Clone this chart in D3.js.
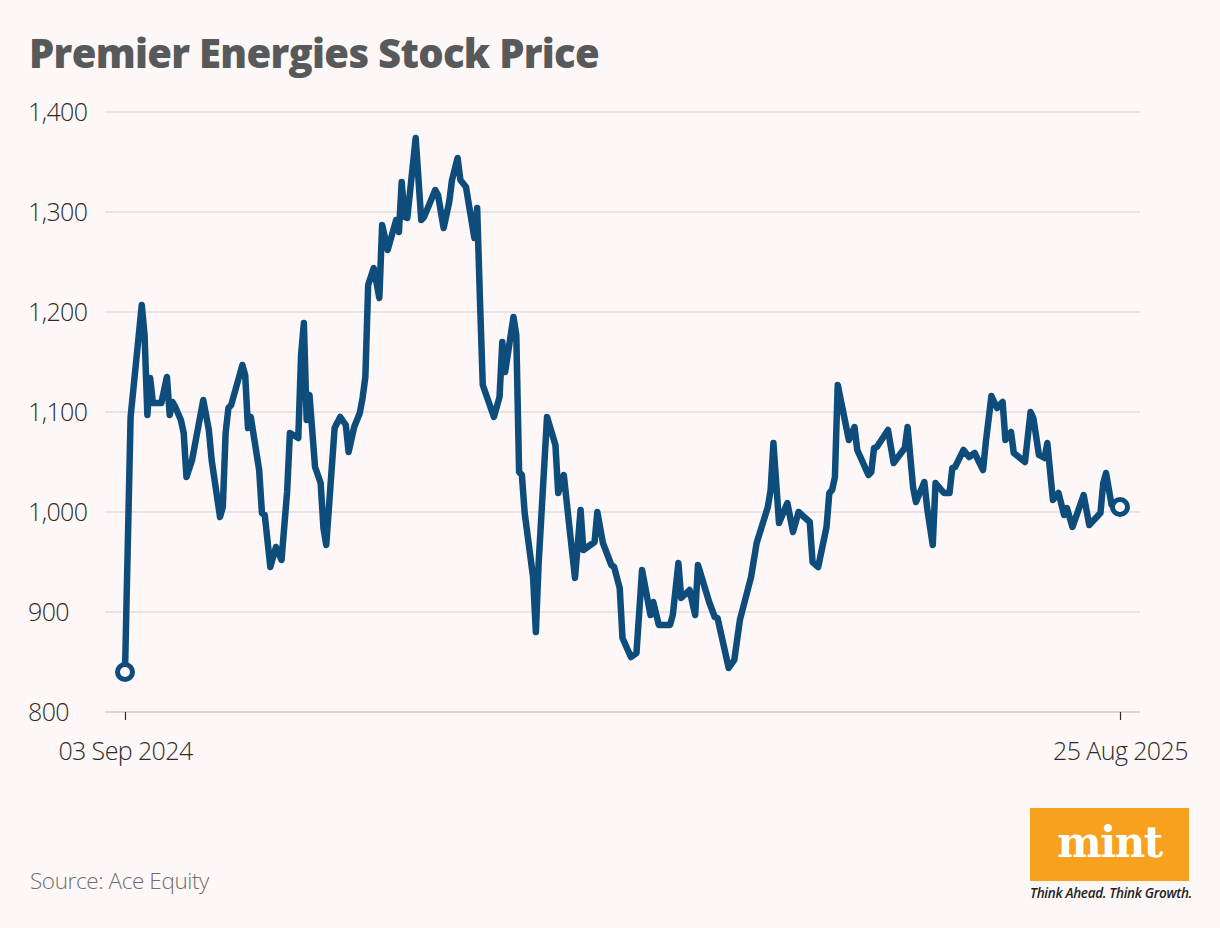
<!DOCTYPE html>
<html>
<head>
<meta charset="utf-8">
<script src="https://cdn.jsdelivr.net/npm/d3@7"></script>
<style>
  body { margin: 0; background: #fdf8f7; }
  svg { display: block; }
</style>
</head>
<body>
<div id="chart"></div>
<script>
// data
const dates = [
  "2024-09-03","2024-09-05","2024-09-09","2024-09-10","2024-09-11","2024-09-12","2024-09-13","2024-09-16",
  "2024-09-18","2024-09-19","2024-09-20","2024-09-21","2024-09-23","2024-09-24","2024-09-25","2024-09-27",
  "2024-09-29","2024-10-01","2024-10-03","2024-10-04","2024-10-07","2024-10-08","2024-10-09","2024-10-10",
  "2024-10-11","2024-10-15","2024-10-16","2024-10-17","2024-10-18","2024-10-21","2024-10-22","2024-10-23",
  "2024-10-25","2024-10-27","2024-10-29","2024-10-31","2024-11-01","2024-11-04","2024-11-05","2024-11-06",
  "2024-11-07","2024-11-08","2024-11-10","2024-11-12","2024-11-13","2024-11-14","2024-11-17","2024-11-19",
  "2024-11-21","2024-11-22","2024-11-24","2024-11-26","2024-11-27","2024-11-28","2024-11-29","2024-12-01",
  "2024-12-03","2024-12-04","2024-12-06","2024-12-09","2024-12-10","2024-12-11","2024-12-12","2024-12-13",
  "2024-12-16","2024-12-18","2024-12-19","2024-12-23","2024-12-24","2024-12-26","2024-12-28","2024-12-29",
  "2024-12-31","2025-01-01","2025-01-03","2025-01-06","2025-01-07","2025-01-08","2025-01-09","2025-01-13",
  "2025-01-15","2025-01-16","2025-01-17","2025-01-20","2025-01-21","2025-01-22","2025-01-23","2025-01-24",
  "2025-01-27","2025-01-28","2025-01-29","2025-02-01","2025-02-04","2025-02-05","2025-02-07","2025-02-09",
  "2025-02-11","2025-02-13","2025-02-14","2025-02-18","2025-02-19","2025-02-21","2025-02-24","2025-02-25",
  "2025-02-27","2025-02-28","2025-03-03","2025-03-05","2025-03-07","2025-03-10","2025-03-11","2025-03-13",
  "2025-03-17","2025-03-18","2025-03-20","2025-03-21","2025-03-24","2025-03-26","2025-03-27","2025-03-31",
  "2025-04-02","2025-04-03","2025-04-07","2025-04-09","2025-04-11","2025-04-15","2025-04-17","2025-04-21",
  "2025-04-22","2025-04-23","2025-04-25","2025-04-28","2025-04-30","2025-05-02","2025-05-06","2025-05-07",
  "2025-05-09","2025-05-12","2025-05-13","2025-05-14","2025-05-15","2025-05-16","2025-05-20","2025-05-22",
  "2025-05-23","2025-05-27","2025-05-28","2025-05-29","2025-05-30","2025-06-03","2025-06-05","2025-06-09",
  "2025-06-10","2025-06-12","2025-06-13","2025-06-16","2025-06-17","2025-06-19","2025-06-20","2025-06-23",
  "2025-06-25","2025-06-26","2025-06-27","2025-06-30","2025-07-02","2025-07-04","2025-07-07","2025-07-08",
  "2025-07-10","2025-07-12","2025-07-14","2025-07-15","2025-07-17","2025-07-18","2025-07-22","2025-07-24",
  "2025-07-25","2025-07-27","2025-07-29","2025-07-30","2025-08-01","2025-08-03","2025-08-05","2025-08-06",
  "2025-08-08","2025-08-12","2025-08-14","2025-08-18","2025-08-19","2025-08-20","2025-08-22","2025-08-25"
];
const prices = [
  840,1095,1207,1177,1097,1134,1109,1109,
  1135,1097,1110,1105,1092,1079,1035,1052,
  1082,1112,1082,1052,995,1005,1079,1104,
  1107,1147,1137,1084,1095,1042,999,997,
  945,965,952,1020,1079,1074,1157,1189,
  1092,1117,1045,1029,984,967,1084,1095,
  1087,1060,1085,1099,1114,1135,1227,1244,
  1214,1287,1262,1292,1280,1330,1295,1294,
  1374,1292,1295,1322,1317,1284,1310,1332,
  1354,1332,1325,1274,1304,1212,1127,1095,
  1115,1170,1140,1195,1177,1040,1037,999,
  935,880,949,1095,1067,1019,1037,985,
  934,1002,962,970,1000,969,947,945,
  924,874,855,859,942,897,910,887,
  887,897,949,914,922,897,947,910,
  895,894,844,852,892,935,969,1005,
  1022,1069,989,1009,980,1000,990,950,
  945,985,1019,1022,1035,1127,1072,1085,
  1062,1037,1040,1064,1065,1082,1049,1064,
  1085,1024,1010,1030,1004,967,1029,1019,
  1019,1044,1045,1062,1055,1059,1042,1070,
  1116,1104,1110,1072,1080,1059,1050,1100,
  1094,1057,1054,1069,1012,1019,997,1004,
  985,1017,987,999,1029,1039,1007,1005
];
const yTicks = [800, 900, 1000, 1100, 1200, 1300, 1400];
const xTickLabels = ["03 Sep 2024", "25 Aug 2025"];

const W = 1220, H = 928;
const margin = { left: 125, right: 100, top: 112, bottom: 216 };
const parse = d3.timeParse("%Y-%m-%d");
const data = dates.map((d, i) => ({ date: parse(d), value: prices[i] }));

const svg = d3.select("#chart").append("svg")
  .attr("width", W)
  .attr("height", H)
  .style("background", "#fdf8f7");

const x = d3.scaleTime()
  .domain(d3.extent(data, d => d.date))
  .range([margin.left, W - margin.right]);
const y = d3.scaleLinear()
  .domain([800, 1400])
  .range([H - margin.bottom, margin.top]);

// title
svg.append("text")
  .attr("x", 29)
  .attr("y", 68)
  .attr("font-family", "'Open Sans', sans-serif")
  .attr("font-weight", 800)
  .attr("font-size", 40)
  .attr("letter-spacing", -0.7)
  .attr("fill", "#58595b")
  .text("Premier Energies Stock Price");

// gridlines
svg.append("g")
  .selectAll("line")
  .data(yTicks)
  .join("line")
    .attr("x1", 105)
    .attr("x2", 1140)
    .attr("y1", d => y(d))
    .attr("y2", d => y(d))
    .attr("stroke", d => d === 800 ? "#cfcaca" : "#e2dddd")
    .attr("stroke-width", 1.5);

// y labels
svg.append("g")
  .selectAll("text")
  .data(yTicks)
  .join("text")
    .attr("x", 28)
    .attr("y", d => y(d) + 9)
    .attr("font-family", "'Open Sans', sans-serif")
    .attr("font-weight", 300)
    .attr("font-size", 25)
    .attr("letter-spacing", -0.6)
    .attr("fill", "#2b2b2b")
    .text(d => d3.format(",")(d));

// x axis ticks
const xAxis = svg.append("g")
  .attr("transform", `translate(0,${y(800)})`)
  .call(d3.axisBottom(x)
    .tickValues([data[0].date, data[data.length - 1].date])
    .tickSize(8)
    .tickFormat((d, i) => xTickLabels[i]));
xAxis.select(".domain").remove();
xAxis.selectAll("line").attr("stroke", "#2b2b2b").attr("stroke-width", 1.2);
xAxis.selectAll("text")
  .attr("y", 30)
  .attr("font-family", "'Open Sans', sans-serif")
  .attr("font-weight", 300)
  .attr("font-size", 25)
  .attr("letter-spacing", -0.6)
  .attr("fill", "#2b2b2b");

// price line
const line = d3.line()
  .x(d => x(d.date))
  .y(d => y(d.value));

svg.append("path")
  .datum(data)
  .attr("fill", "none")
  .attr("stroke", "#0d4c7b")
  .attr("stroke-width", 6.5)
  .attr("stroke-linejoin", "round")
  .attr("stroke-linecap", "round")
  .attr("d", line);

svg.selectAll(".end-dot")
  .data([data[0], data[data.length - 1]])
  .join("circle")
    .attr("class", "end-dot")
    .attr("cx", d => x(d.date))
    .attr("cy", d => y(d.value))
    .attr("r", 7.5)
    .attr("fill", "#fdf8f7")
    .attr("stroke", "#0d4c7b")
    .attr("stroke-width", 5);

// source
svg.append("text")
  .attr("x", 30)
  .attr("y", 889)
  .attr("font-family", "'Open Sans', sans-serif")
  .attr("font-weight", 300)
  .attr("font-size", 22.5)
  .attr("letter-spacing", -0.4)
  .attr("fill", "#6d6d6d")
  .text("Source: Ace Equity");

// mint logo
const logo = svg.append("g").attr("transform", "translate(1030,808)");
logo.append("rect")
  .attr("width", 159)
  .attr("height", 73)
  .attr("fill", "#f8a11e");
logo.append("text")
  .attr("x", 79.5)
  .attr("y", 49)
  .attr("text-anchor", "middle")
  .attr("font-family", "'DejaVu Serif', serif")
  .attr("font-weight", 700)
  .attr("font-size", 42)
  .attr("letter-spacing", -1.5)
  .attr("fill", "#ffffff")
  .text("mint");
logo.append("text")
  .attr("x", 0)
  .attr("y", 90)
  .attr("font-family", "'Open Sans', sans-serif")
  .attr("font-style", "italic")
  .attr("font-weight", 600)
  .attr("font-size", 13.5)
  .attr("letter-spacing", -0.3)
  .attr("fill", "#222")
  .text("Think Ahead. Think Growth.");
</script>
</body>
</html>
